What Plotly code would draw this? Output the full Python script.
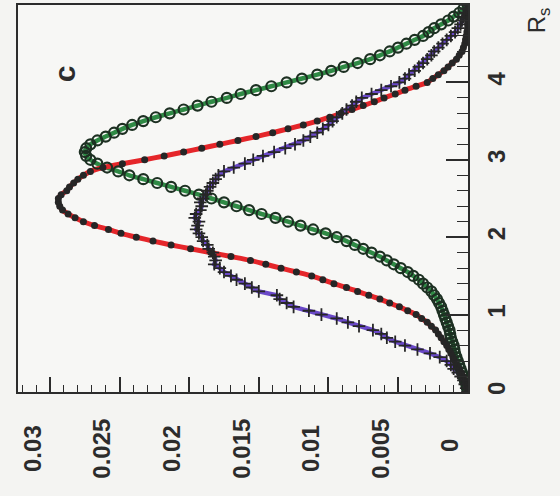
import plotly.graph_objects as go

# Sampling positions along R (0 to 5 in steps of 0.05), shared by all series
r_values = [round(0.05 * i, 2) for i in range(101)]

# Series 1: red curve with filled black points
red_vals = [
    0.0, 0.00005, 0.0001, 0.0002, 0.0003, 0.00045, 0.0006, 0.00075, 0.0009, 0.00105,
    0.0012, 0.00135, 0.0015, 0.0017, 0.0019, 0.0021, 0.0023, 0.0026, 0.0029, 0.0033,
    0.0037, 0.0043, 0.0049, 0.0056, 0.0063, 0.0071, 0.0079, 0.0087, 0.0096, 0.0104,
    0.0112, 0.0123, 0.0134, 0.0145, 0.0156, 0.0170, 0.0184, 0.0199, 0.0213, 0.0226,
    0.0238, 0.0249, 0.0258, 0.0268, 0.0276, 0.0282, 0.0287, 0.0291, 0.0293, 0.0294,
    0.0294, 0.0292, 0.0288, 0.0286, 0.0283, 0.0280, 0.0276, 0.0271, 0.0262, 0.0248,
    0.0232, 0.0218, 0.0204, 0.0191, 0.0178, 0.0165, 0.0152, 0.0140, 0.0129, 0.0118,
    0.0108, 0.0099, 0.0091, 0.0083, 0.0075, 0.0067, 0.0060, 0.0052, 0.0045, 0.0037,
    0.0029, 0.0025, 0.0021, 0.0017, 0.0014, 0.0011, 0.0008, 0.0006, 0.0004, 0.0003,
    0.0002, 0.00015, 0.0001, 0.00005, 0.0, 0.0, 0.0, 0.0, 0.0, 0.0,
    0.0,
]

# Series 2: green curve with open circles
green_vals = [
    0.0, 0.00005, 0.0001, 0.0002, 0.0003, 0.0004, 0.0005, 0.0006, 0.0007, 0.0008,
    0.0009, 0.00095, 0.0010, 0.0011, 0.0012, 0.00125, 0.0013, 0.0014, 0.0015, 0.0016,
    0.0017, 0.0018, 0.0019, 0.00205, 0.0022, 0.0024, 0.0026, 0.0029, 0.0032, 0.0035,
    0.0039, 0.0043, 0.0048, 0.0053, 0.0058, 0.0063, 0.0069, 0.0075, 0.0081, 0.0087,
    0.0094, 0.0102, 0.0111, 0.0120, 0.0129, 0.0138, 0.0148, 0.0157, 0.0166, 0.0175,
    0.0184, 0.0193, 0.0203, 0.0213, 0.0223, 0.0233, 0.0243, 0.0251, 0.0259, 0.0266,
    0.0271, 0.0274, 0.0275, 0.0274, 0.0271, 0.0266, 0.0260, 0.0254, 0.0248, 0.0241,
    0.0233, 0.0224, 0.0214, 0.0204, 0.0194, 0.0184, 0.0173, 0.0163, 0.0152, 0.0141,
    0.0130, 0.0119, 0.0108, 0.0098, 0.0089, 0.0079, 0.0070, 0.0063, 0.0056, 0.0050,
    0.0044, 0.0038, 0.0032, 0.0028, 0.0024, 0.0019, 0.0014, 0.0010, 0.0006, 0.0003,
    0.0,
]

# Series 3: purple curve with crosses (noisier)
purple_vals = [
    0.0, 0.0001, 0.0002, 0.0003, 0.0005, 0.0007, 0.0010, 0.0012, 0.0015, 0.0020,
    0.0027, 0.0036, 0.0045, 0.0052, 0.0058, 0.0062, 0.0068, 0.0078, 0.0086, 0.0094,
    0.0105, 0.0114, 0.0125, 0.0130, 0.0135, 0.0137, 0.0150, 0.0155, 0.0160, 0.0166,
    0.0170, 0.0175, 0.0178, 0.0182, 0.0181, 0.0182, 0.0183, 0.0186, 0.0187, 0.0190,
    0.0191, 0.0193, 0.0195, 0.0194, 0.0193, 0.0196, 0.0195, 0.0192, 0.0191, 0.0192,
    0.0190, 0.0188, 0.0187, 0.0185, 0.0183, 0.0181, 0.0179, 0.0175, 0.0168, 0.0160,
    0.0154, 0.0147, 0.0139, 0.0131, 0.0124, 0.0118, 0.0113, 0.0108, 0.0104, 0.0100,
    0.0097, 0.0094, 0.0090, 0.0087, 0.0083, 0.0080, 0.0076, 0.0069, 0.0062, 0.0055,
    0.0049, 0.0045, 0.0042, 0.0038, 0.0035, 0.0032, 0.0029, 0.0026, 0.0024, 0.0021,
    0.0018, 0.0015, 0.0012, 0.0009, 0.0007, 0.0005, 0.0004, 0.0003, 0.0002, 0.0001,
    0.0,
]

value_ticks = [0, 0.005, 0.01, 0.015, 0.02, 0.025, 0.03]
value_labels = ["0", "0.005", "0.01", "0.015", "0.02", "0.025", "0.03"]
r_ticks = [0, 1, 2, 3, 4, 5]
r_labels = ["0", "1", "2", "3", "4", "5"]

INK = "#2c2c2c"
DOT = "#262626"
FONT = "Liberation Sans"
NBSP = "\u00a0"


def centred(label):
    # pad shorter labels so every rotated label sits on a common centre
    pad = {1: 3, 4: 1, 5: 0}.get(len(label), 0)
    return label + NBSP * pad


# (values, line colour, line shape, line width, marker style)
series = [
    (green_vals, "#2f8a45", "spline", 4.5,
     dict(symbol="circle-open", size=10, color="#1d3022",
          line=dict(width=2.2, color="#1d3022"))),
    (red_vals, "#e5262a", "spline", 5,
     dict(symbol="circle", size=7, color=DOT)),
    (purple_vals, "#6a48c8", "linear", 4.5,
     dict(symbol="cross-thin-open", size=9, color=DOT, line=dict(width=1.8, color=DOT))),
]

fig = go.Figure()

# coloured curves first
for vals, colour, shape, width, marker in series:
    fig.add_trace(go.Scatter(
        x=vals, y=r_values, mode="lines",
        line=dict(color=colour, width=width, shape=shape, smoothing=0.6),
        showlegend=False, hoverinfo="skip",
    ))

# black data markers on top
for vals, colour, shape, width, marker in series:
    fig.add_trace(go.Scatter(
        x=vals, y=r_values, mode="markers",
        marker=marker, showlegend=False,
    ))

fig.add_annotation(x=0.0289, y=4.11, xref="x", yref="y", text="c", showarrow=False,
                   textangle=-90, font=dict(family=FONT, size=30, color=INK, weight="bold"))
fig.add_annotation(x=1.195, y=1.0, xref="paper", yref="paper", text="R<sub>s</sub>",
                   showarrow=False, textangle=-90,
                   font=dict(family=FONT, size=24, color=INK))

axis_common = dict(
    showline=True, mirror=True, linewidth=2, linecolor=INK,
    showgrid=False, zeroline=False, ticks="inside", tickcolor=INK, tickwidth=1.5,
    tickangle=-90, tickfont=dict(family=FONT, size=24, color=INK, weight="bold"),
)

fig.update_layout(
    width=560, height=496, autosize=False,
    margin=dict(l=18, r=92, t=3, b=104),
    paper_bgcolor="#f4f4f2", plot_bgcolor="#f7f7f5",
    xaxis=dict(range=[0.0323, -0.00003], tickvals=value_ticks,
               ticktext=[centred(t) for t in value_labels], ticklen=15,
               minor=dict(dtick=0.001, tick0=0, ticks="inside", ticklen=7,
                          tickcolor=INK, tickwidth=1.2),
               ticklabelstandoff=15, ticklabelshift=17, **axis_common),
    yaxis=dict(side="right", range=[0, 5], tickvals=r_ticks, ticktext=r_labels,
               ticklen=22, minor=dict(dtick=0.2, tick0=0, ticks="inside", ticklen=11,
                                      tickcolor=INK, tickwidth=1.2),
               ticklabelstandoff=6, **axis_common),
)

fig.write_html("out.html")
